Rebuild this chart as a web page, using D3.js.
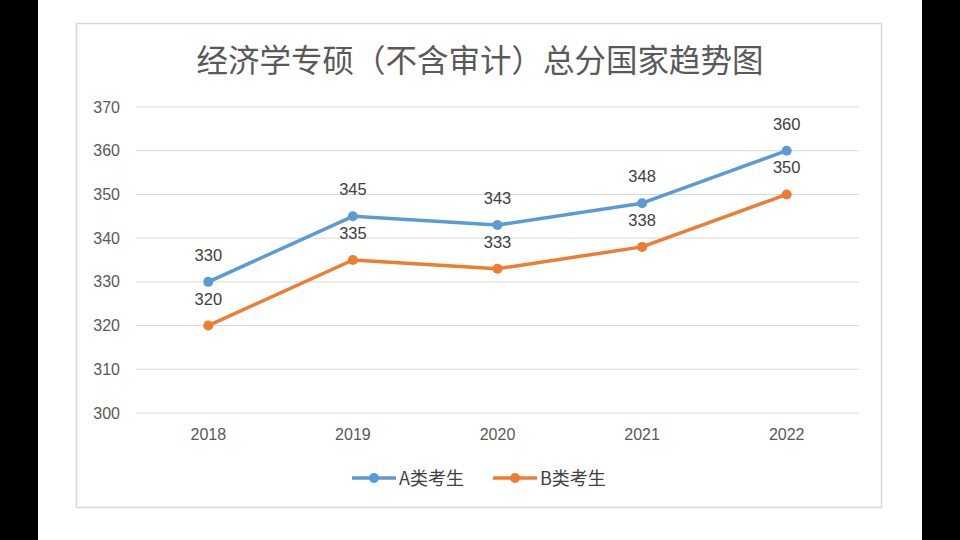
<!DOCTYPE html>
<html><head><meta charset="utf-8">
<script src="https://cdn.jsdelivr.net/npm/d3@7"></script>
<style>body{margin:0;background:#fff;}svg{display:block;}</style>
</head><body>
<svg id="c" width="960" height="540"></svg>
<script>
const years = ["2018","2019","2020","2021","2022"];
const seriesA = [330,345,343,348,360];
const seriesB = [320,335,333,338,350];
const seriesNames = ["A类考生","B类考生"];
const yTicks = [300,310,320,330,340,350,360,370];
const title = "经济学专硕（不含审计）总分国家趋势图";

const svg = d3.select("#c");
svg.append("rect").attr("x",0).attr("y",0).attr("width",38).attr("height",540).attr("fill","#000");
svg.append("rect").attr("x",922).attr("y",0).attr("width",38).attr("height",540).attr("fill","#000");
svg.append("rect").attr("x",76.5).attr("y",23.5).attr("width",805).attr("height",484)
  .attr("fill","#fff").attr("stroke","#d9d9d9").attr("stroke-width",1.5);

const x = d3.scaleBand().domain(years).range([136,859]);
const y = d3.scaleLinear().domain([300,370]).range([413,107]);

svg.append("text").attr("x",480).attr("y",72).attr("text-anchor","middle")
  .attr("font-family","Noto Sans CJK SC").attr("font-size",31.5).attr("fill","#595959").text(title);

const grid = svg.append("g");
grid.selectAll("line").data(yTicks).join("line")
  .attr("x1",136).attr("x2",859).attr("y1",d=>y(d)).attr("y2",d=>y(d))
  .attr("stroke","#d9d9d9").attr("stroke-width",1);

const yAxis = d3.axisLeft(y).tickValues(yTicks).tickSize(0).tickPadding(16);
const ga = svg.append("g").attr("transform","translate(136,0)").call(yAxis);
ga.select(".domain").remove();
ga.selectAll("text").attr("font-family","Liberation Sans, Arial").attr("font-size",16).attr("fill","#595959");

const xAxis = d3.axisBottom(x).tickSize(0).tickPadding(16);
const gx = svg.append("g").attr("transform","translate(0,413)").call(xAxis);
gx.select(".domain").remove();
gx.selectAll("text").attr("font-family","Liberation Sans, Arial").attr("font-size",16).attr("fill","#595959");

const colors = ["#5B9BD5","#ED7D31"];
const data = [seriesA, seriesB];
const line = d3.line().x((d,i)=>x(years[i])+x.bandwidth()/2).y(d=>y(d));
data.forEach((s,k)=>{
  svg.append("path").attr("d",line(s)).attr("fill","none").attr("stroke",colors[k])
    .attr("stroke-width",3.5).attr("stroke-linejoin","round").attr("stroke-linecap","round");
  svg.append("g").selectAll("circle").data(s).join("circle")
    .attr("cx",(d,i)=>x(years[i])+x.bandwidth()/2).attr("cy",d=>y(d)).attr("r",5).attr("fill",colors[k]);
  svg.append("g").selectAll("text").data(s).join("text")
    .attr("x",(d,i)=>x(years[i])+x.bandwidth()/2).attr("y",d=>y(d)-21)
    .attr("text-anchor","middle").attr("font-family","Liberation Sans, Arial").attr("font-size",16.5)
    .attr("fill","#404040").text(d=>d);
});

const legX = [352,493];
seriesNames.forEach((n,k)=>{
  const g = svg.append("g");
  g.append("line").attr("x1",legX[k]).attr("x2",legX[k]+44).attr("y1",478).attr("y2",478)
    .attr("stroke",colors[k]).attr("stroke-width",3.5);
  g.append("circle").attr("cx",legX[k]+22).attr("cy",478).attr("r",5).attr("fill",colors[k]);
  g.append("text").attr("x",legX[k]+47).attr("y",485).attr("font-family","Noto Sans CJK SC")
    .attr("font-size",18).attr("fill","#404040").text(n);
});
</script>
</body></html>
